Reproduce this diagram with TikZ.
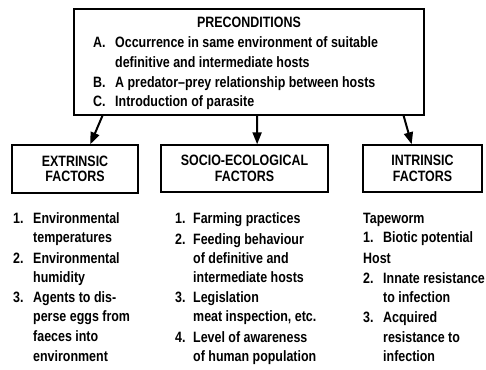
\documentclass[tikz,border=0pt]{standalone}
\usepackage{fontspec}
\setmainfont{Liberation Sans}[FakeStretch=0.83]
\usepackage{tikz}
\usetikzlibrary{arrows.meta,calc,positioning}

\newcommand{\lbl}{\bfseries\fontsize{15}{16.5}\selectfont}

\begin{document}
\begin{tikzpicture}[x=1pt,y=-1pt,
    kasten/.style={draw, line width=1.4pt, inner sep=0pt, align=center, font=\lbl},
    txt/.style={anchor=base west, inner sep=0pt, font=\lbl},
    pfeil/.style={line width=2pt, -{Triangle[length=12pt,width=9pt]}}]
        % Rahmen
        \useasboundingbox (0,0) rectangle (486,369);

        % Voraussetzungen
        \node[kasten, minimum width=350pt, minimum height=106pt] (pre) at (249,62) {};
        \node[txt, anchor=base] (pretitle) at (249,28) {PRECONDITIONS};
        \node[txt] (preA) at (93,47) {A.};
        \node[txt] (preAa) at (115,47) {Occurrence in same environment of suitable};
        \node[txt] (preAb) at (115,67) {definitive and intermediate hosts};
        \node[txt] (preB) at (93,87) {B.};
        \node[txt] (preBa) at (115,87) {A predator--prey relationship between hosts};
        \node[txt] (preC) at (93,106) {C.};
        \node[txt] (preCa) at (115,106) {Introduction of parasite};

        % Faktoren
        \node[kasten, minimum width=126pt, minimum height=48pt] (ext) at (75,169) {EXTRINSIC\\[-1pt]FACTORS};
        \node[kasten, minimum width=167pt, minimum height=47pt] (soc) at (244.5,168.5) {SOCIO-ECOLOGICAL\\[-1pt]FACTORS};
        \node[kasten, minimum width=119pt, minimum height=47pt] (int) at (422.5,168.5) {INTRINSIC\\[-1pt]FACTORS};

        % Pfeile
        \draw[pfeil] ($(pre.south west)!0.083!(pre.south east)$) -- ($(ext.north west)!0.62!(ext.north east)$);
        \draw[pfeil] ($(pre.south west)!0.523!(pre.south east)$) -- ($(soc.north west)!0.575!(soc.north east)$);
        \draw[pfeil] ($(pre.south west)!0.94!(pre.south east)$) -- ($(int.north west)!0.41!(int.north east)$);

        % Liste extrinsisch
        \node[txt] (e1) at (13,223) {1.};
        \node[txt] (e1a) at (33,223) {Environmental};
        \node[txt] (e1b) at (33,242) {temperatures};
        \node[txt] (e2) at (13,263) {2.};
        \node[txt] (e2a) at (33,263) {Environmental};
        \node[txt] (e2b) at (33,282) {humidity};
        \node[txt] (e3) at (13,302) {3.};
        \node[txt] (e3a) at (33,302) {Agents to dis-};
        \node[txt] (e3b) at (33,321) {perse eggs from};
        \node[txt] (e3c) at (33,341) {faeces into};
        \node[txt] (e3d) at (33,361) {environment};

        % Liste sozio-oekologisch
        \node[txt] (s1) at (175,223) {1.};
        \node[txt] (s1a) at (193,223) {Farming practices};
        \node[txt] (s2) at (175,244) {2.};
        \node[txt] (s2a) at (193,244) {Feeding behaviour};
        \node[txt] (s2b) at (193,263) {of definitive and};
        \node[txt] (s2c) at (193,282) {intermediate hosts};
        \node[txt] (s3) at (175,302) {3.};
        \node[txt] (s3a) at (193,302) {Legislation};
        \node[txt] (s3b) at (193,321) {meat inspection, etc.};
        \node[txt] (s4) at (175,342) {4.};
        \node[txt] (s4a) at (193,342) {Level of awareness};
        \node[txt] (s4b) at (193,361) {of human population};

        % Liste intrinsisch
        \node[txt] (iw) at (363,223) {Tapeworm};
        \node[txt] (i1) at (363,242) {1.};
        \node[txt] (i1a) at (383,242) {Biotic potential};
        \node[txt] (ih) at (363,263) {Host};
        \node[txt] (i2) at (363,283) {2.};
        \node[txt] (i2a) at (383,283) {Innate resistance};
        \node[txt] (i2b) at (383,302) {to infection};
        \node[txt] (i3) at (363,322) {3.};
        \node[txt] (i3a) at (383,322) {Acquired};
        \node[txt] (i3b) at (383,342) {resistance to};
        \node[txt] (i3c) at (383,361) {infection};
\end{tikzpicture}
\end{document}
